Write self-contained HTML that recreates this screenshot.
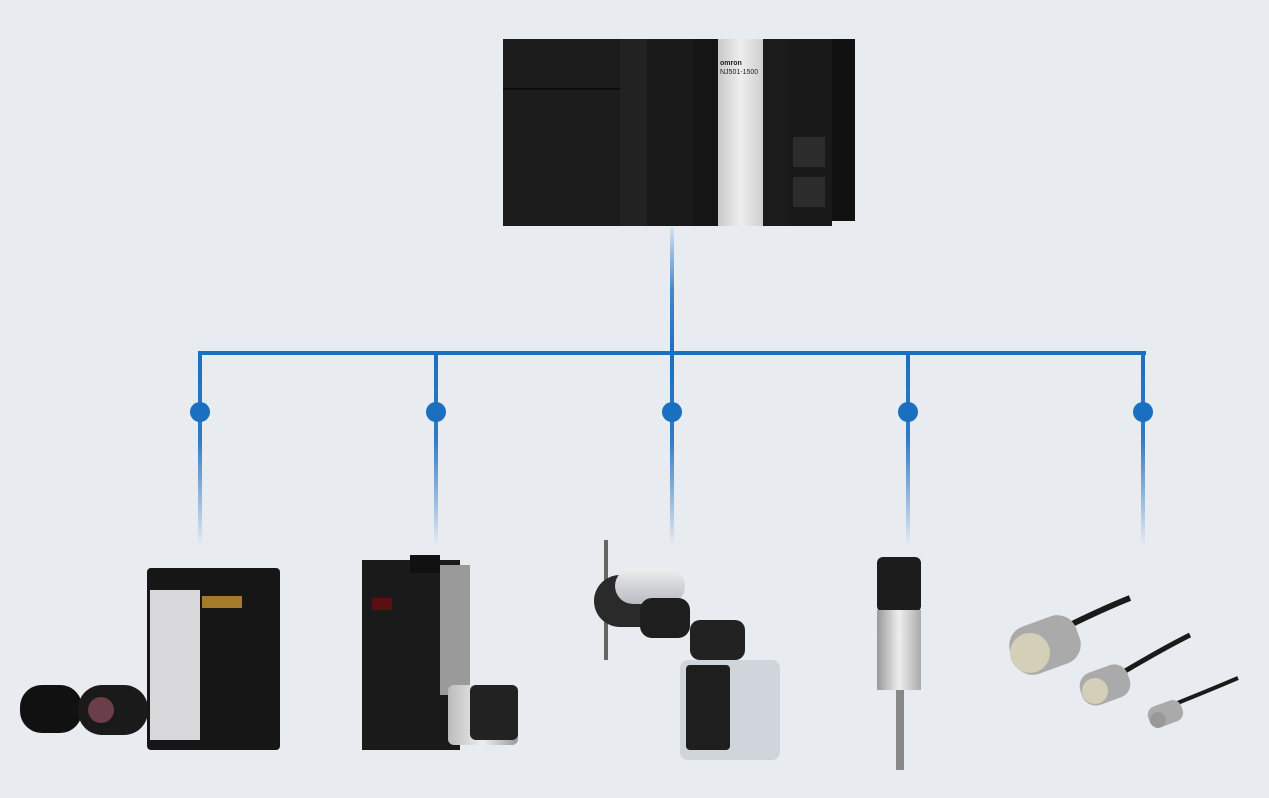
<!DOCTYPE html>
<html><head><meta charset="utf-8"><style>
html,body{margin:0;padding:0}
body{width:1269px;height:798px;background:#e8ebef;position:relative;overflow:hidden;font-family:"Liberation Sans",sans-serif}
.a{position:absolute}
.t{position:absolute;color:#ddd;font-size:5px}
</style></head><body>
<svg class="a" style="left:0;top:0" width="1269" height="798">
<defs>
<linearGradient id="up" x1="0" y1="1" x2="0" y2="0"><stop offset="0" stop-color="#1a6fc0"/><stop offset="0.5" stop-color="#1a6fc0" stop-opacity="0.8"/><stop offset="1" stop-color="#1a6fc0" stop-opacity="0.1"/></linearGradient>
<linearGradient id="dn" x1="0" y1="0" x2="0" y2="1"><stop offset="0" stop-color="#1a6fc0"/><stop offset="0.45" stop-color="#1a6fc0" stop-opacity="0.9"/><stop offset="1" stop-color="#1a6fc0" stop-opacity="0"/></linearGradient>
</defs>
<rect x="670" y="228" width="4" height="126" fill="url(#up)"/>
<rect x="198" y="351" width="948" height="4" fill="#1a6fc0"/>
<g fill="url(#dn)">
<rect x="198" y="351" width="4" height="195"/><rect x="434" y="351" width="4" height="195"/><rect x="670" y="351" width="4" height="195"/><rect x="906" y="351" width="4" height="195"/><rect x="1141" y="351" width="4" height="195"/>
</g>
<g fill="#1a6fc0"><circle cx="200" cy="412" r="10"/><circle cx="436" cy="412" r="10"/><circle cx="672" cy="412" r="10"/><circle cx="908" cy="412" r="10"/><circle cx="1143" cy="412" r="10"/></g>
</svg>
<!-- PLC -->
<div class="a" style="left:503px;top:39px;width:117px;height:187px;background:#1c1c1d"></div>
<div class="a" style="left:503px;top:88px;width:117px;height:2px;background:#0c0c0c"></div>
<div class="a" style="left:620px;top:39px;width:27px;height:187px;background:#222"></div>
<div class="a" style="left:647px;top:39px;width:46px;height:187px;background:#1a1a1b"></div>
<div class="a" style="left:693px;top:39px;width:25px;height:187px;background:#151515"></div>
<div class="a" style="left:718px;top:39px;width:45px;height:187px;background:linear-gradient(90deg,#c9c9c9,#eee,#cfcfcf)"></div>
<div class="t" style="left:720px;top:60px;color:#222;font-size:7px;font-weight:bold">omron</div>
<div class="t" style="left:720px;top:69px;color:#222;font-size:7px">NJ501-1500</div>
<div class="a" style="left:763px;top:39px;width:26px;height:187px;background:#1b1b1b"></div>
<div class="a" style="left:789px;top:39px;width:43px;height:187px;background:#191919"></div>
<div class="a" style="left:793px;top:137px;width:32px;height:30px;background:#2c2c2c"></div>
<div class="a" style="left:793px;top:177px;width:32px;height:30px;background:#2c2c2c"></div>
<div class="a" style="left:832px;top:39px;width:23px;height:182px;background:#111"></div>
<!-- Vision -->
<div class="a" style="left:147px;top:568px;width:133px;height:182px;background:#161616;border-radius:4px"></div>
<div class="a" style="left:150px;top:590px;width:50px;height:150px;background:#d8d8da"></div>
<div class="a" style="left:202px;top:596px;width:40px;height:12px;background:#a57a2a"></div>
<div class="a" style="left:20px;top:685px;width:62px;height:48px;background:#111;border-radius:22px"></div>
<div class="a" style="left:78px;top:685px;width:70px;height:50px;background:#1a1a1a;border-radius:24px"></div>
<div class="a" style="left:88px;top:697px;width:26px;height:26px;background:#6b3f4a;border-radius:50%"></div>
<!-- Servo -->
<div class="a" style="left:362px;top:560px;width:98px;height:190px;background:#1a1a1a"></div>
<div class="a" style="left:410px;top:555px;width:30px;height:18px;background:#111"></div>
<div class="a" style="left:440px;top:565px;width:30px;height:130px;background:#9a9a9a"></div>
<div class="a" style="left:372px;top:598px;width:20px;height:12px;background:#5a1010"></div>
<div class="a" style="left:448px;top:685px;width:70px;height:60px;background:linear-gradient(90deg,#bbb,#eee,#999);border-radius:6px"></div>
<div class="a" style="left:470px;top:685px;width:48px;height:55px;background:#222;border-radius:6px"></div>
<!-- Robot -->
<div class="a" style="left:604px;top:540px;width:4px;height:120px;background:#666"></div>
<div class="a" style="left:594px;top:575px;width:72px;height:52px;background:#2a2a2a;border-radius:26px"></div>
<div class="a" style="left:615px;top:568px;width:70px;height:36px;background:linear-gradient(#eee,#b8bcc2);border-radius:18px"></div>
<div class="a" style="left:640px;top:598px;width:50px;height:40px;background:#1e1e1e;border-radius:12px"></div>
<div class="a" style="left:690px;top:620px;width:55px;height:40px;background:#222;border-radius:10px"></div>
<div class="a" style="left:680px;top:660px;width:100px;height:100px;background:#d0d5db;border-radius:8px"></div>
<div class="a" style="left:686px;top:665px;width:44px;height:85px;background:#1e1e1e;border-radius:4px"></div>
<!-- Pressure sensor -->
<div class="a" style="left:877px;top:557px;width:44px;height:55px;background:#1c1c1c;border-radius:6px"></div>
<div class="a" style="left:877px;top:610px;width:44px;height:80px;background:linear-gradient(90deg,#999,#eee,#aaa)"></div>
<div class="a" style="left:896px;top:690px;width:8px;height:80px;background:#888"></div>
<!-- Proximity sensors -->
<svg class="a" style="left:1000px;top:590px" width="260" height="160">
<path d="M60 40 Q100 20 130 8" stroke="#1a1a1a" stroke-width="6" fill="none"/>
<path d="M110 90 Q160 60 190 45" stroke="#1a1a1a" stroke-width="5" fill="none"/>
<path d="M160 120 Q210 100 238 88" stroke="#1a1a1a" stroke-width="4" fill="none"/>
<rect x="10" y="30" width="70" height="50" rx="20" fill="#aaa" transform="rotate(-20 45 55)"/>
<circle cx="30" cy="63" r="20" fill="#d4cfb8"/>
<rect x="80" y="78" width="50" height="34" rx="14" fill="#aaa" transform="rotate(-20 105 95)"/>
<circle cx="95" cy="101" r="13" fill="#d4cfb8"/>
<rect x="148" y="113" width="35" height="22" rx="9" fill="#aaa" transform="rotate(-20 165 124)"/>
<circle cx="158" cy="130" r="8" fill="#999"/>
</svg>
</body></html>
